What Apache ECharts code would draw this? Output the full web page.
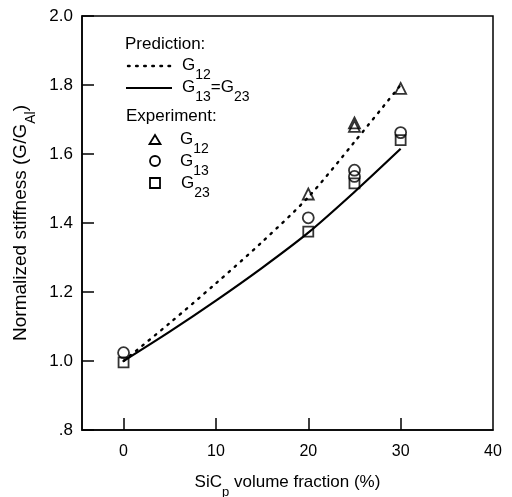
<!DOCTYPE html>
<html>
<head>
<meta charset="utf-8">
<script src="https://cdn.jsdelivr.net/npm/echarts@6/dist/echarts.min.js"></script>
<style>html,body{margin:0;padding:0;background:#fff}#c{width:512px;height:497px}</style>
</head>
<body>
<div id="c"></div>
<script>
// Prediction curves
const predX = [0, 5, 10, 15, 20, 25, 30];
const predG12 = [1.0, 1.11, 1.225, 1.345, 1.475, 1.635, 1.80];
const predG13G23 = [1.0, 1.085, 1.175, 1.27, 1.372, 1.49, 1.615];
// Experiment points
const expG12X = [20, 25, 25, 30];
const expG12 = [1.484, 1.68, 1.69, 1.79];
const expG13X = [0, 20, 25, 25, 30];
const expG13 = [1.024, 1.415, 1.535, 1.553, 1.662];
const expG23X = [0, 20, 25, 30];
const expG23 = [0.996, 1.375, 1.515, 1.64];
// Axis ticks
const xTicks = [0, 10, 20, 30];
const xLabels = [0, 10, 20, 30, 40];

const FONT = 'Liberation Sans';
const pair = (xs, ys) => xs.map((x, i) => [x, ys[i]]);
const subRich = {
  g: {fontFamily: FONT, fontSize: 17, color: '#000', lineHeight: 18, verticalAlign: 'top'},
  s: {fontFamily: FONT, fontSize: 14, color: '#000', lineHeight: 25, verticalAlign: 'bottom'}
};
const xNameRich = {
  a: {fontFamily: FONT, fontSize: 17, color: '#000', lineHeight: 19, verticalAlign: 'top'},
  s: {fontFamily: FONT, fontSize: 13, color: '#000', lineHeight: 25, verticalAlign: 'bottom'}
};
const yNameRich = {
  a: {fontFamily: FONT, fontSize: 19, color: '#000', lineHeight: 21, verticalAlign: 'top'},
  s: {fontFamily: FONT, fontSize: 14, color: '#000', lineHeight: 27, verticalAlign: 'bottom'}
};

const chart = echarts.init(document.getElementById('c'));
const hollow = {color: 'rgba(0,0,0,0)', borderColor: '#000', borderWidth: 1.8};

chart.setOption({
  animation: false,
  backgroundColor: '#fff',
  grid: {left: 82, right: 19, top: 16, bottom: 67, outerBoundsMode: 'none', containLabel: false,
    show: true, borderColor: '#000', borderWidth: 1.5, backgroundColor: 'transparent'},
  xAxis: {
    type: 'value', min: -4.5, max: 40,
    axisLine: {show: true, onZero: false, lineStyle: {color: '#000', width: 1.5}},
    axisTick: {show: true, inside: true, length: 12, customValues: xTicks, lineStyle: {color: '#000', width: 1.5}},
    axisLabel: {customValues: xLabels, margin: 14, fontFamily: FONT, fontSize: 16, color: '#000'},
    splitLine: {show: false},
    name: '{a|SiC}{s|p}{a| volume fraction (%)}',
    nameLocation: 'middle', nameGap: 44, nameMoveOverlap: false,
    nameTextStyle: {rich: xNameRich}
  },
  yAxis: {
    type: 'value', min: 0.8, max: 2.0, interval: 0.2,
    axisLine: {show: true, onZero: false, lineStyle: {color: '#000', width: 1.5}},
    axisTick: {show: true, inside: true, length: 12, lineStyle: {color: '#000', width: 1.5}},
    axisLabel: {margin: 9, fontFamily: FONT, fontSize: 17, color: '#000',
      formatter: v => Math.abs(v - 0.8) < 1e-6 ? '.8' : v.toFixed(1)},
    splitLine: {show: false},
    name: '{a|Normalized stiffness (G/G}{s|Al}{a|)}',
    nameLocation: 'middle', nameGap: 44, nameMoveOverlap: false,
    nameTextStyle: {rich: yNameRich}
  },
  series: [
    {type: 'line', data: pair(predX, predG12), smooth: 0.3, symbol: 'none',
     lineStyle: {color: '#000', width: 2.4, type: [1.6, 6.5], cap: 'round'}},
    {type: 'line', data: pair(predX, predG13G23), smooth: 0.3, symbol: 'none',
     lineStyle: {color: '#000', width: 2.2}},
    {type: 'scatter', data: pair(expG12X, expG12), symbol: 'triangle', symbolSize: 11, itemStyle: hollow},
    {type: 'scatter', data: pair(expG13X, expG13), symbol: 'circle', symbolSize: 11, itemStyle: hollow},
    {type: 'scatter', data: pair(expG23X, expG23), symbol: 'rect', symbolSize: 10, itemStyle: hollow}
  ],
  graphic: [
    {type: 'text', left: 125, top: 36, style: {text: 'Prediction:', fontFamily: FONT, fontSize: 17, fill: '#000'}},
    {type: 'line', shape: {x1: 128, y1: 66, x2: 172, y2: 66}, style: {stroke: '#000', lineWidth: 2.4, lineDash: [1.6, 6.5], lineCap: 'round'}},
    {type: 'text', left: 182, top: 57, style: {text: '{g|G}{s|12}', rich: subRich}},
    {type: 'line', shape: {x1: 126, y1: 88, x2: 172, y2: 88}, style: {stroke: '#000', lineWidth: 2.2}},
    {type: 'text', left: 182, top: 79, style: {text: '{g|G}{s|13}{g|=G}{s|23}', rich: subRich}},
    {type: 'text', left: 126, top: 108, style: {text: 'Experiment:', fontFamily: FONT, fontSize: 17, fill: '#000'}},
    {type: 'polygon', shape: {points: [[155, 135], [160.5, 144], [149.5, 144]]}, style: {fill: 'none', stroke: '#000', lineWidth: 1.8}},
    {type: 'text', left: 180, top: 131, style: {text: '{g|G}{s|12}', rich: subRich}},
    {type: 'circle', shape: {cx: 155, cy: 161, r: 5}, style: {fill: 'none', stroke: '#000', lineWidth: 1.8}},
    {type: 'text', left: 180, top: 153, style: {text: '{g|G}{s|13}', rich: subRich}},
    {type: 'rect', shape: {x: 150, y: 178, width: 10, height: 10}, style: {fill: 'none', stroke: '#000', lineWidth: 1.8}},
    {type: 'text', left: 181, top: 175, style: {text: '{g|G}{s|23}', rich: subRich}}
  ]
});
</script>
</body>
</html>
